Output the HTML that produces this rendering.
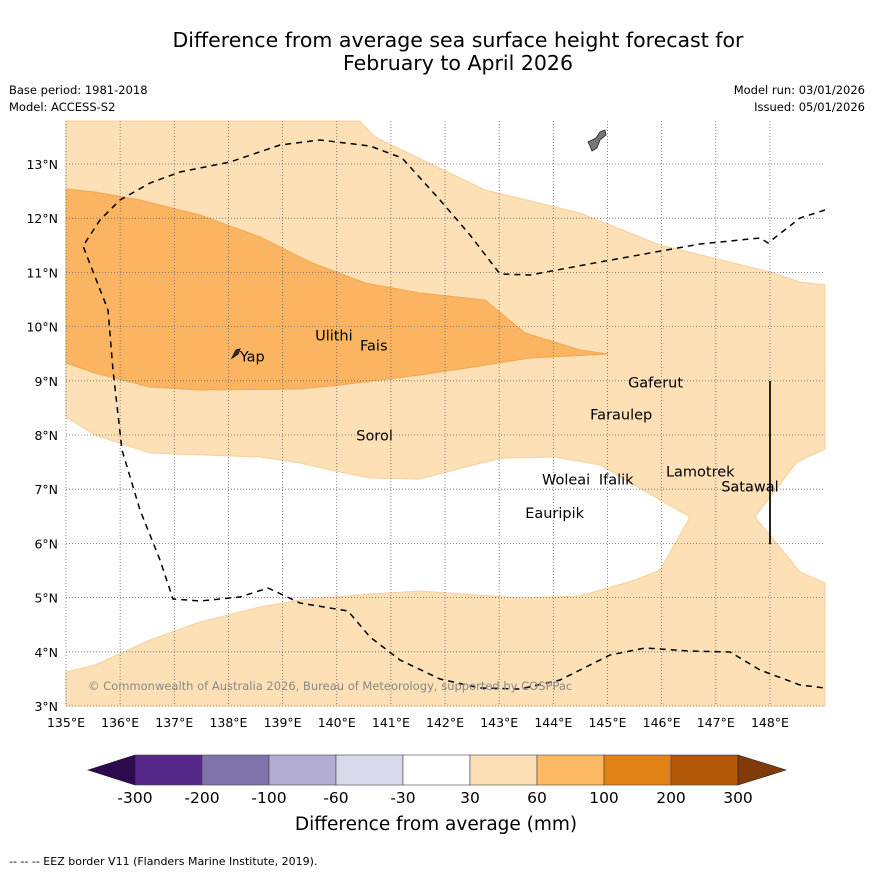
<!DOCTYPE html>
<html><head><meta charset="utf-8"><style>
body{margin:0;background:#fff;font-family:"Liberation Sans","DejaVu Sans",sans-serif}
svg text{font-family:"DejaVu Sans","Liberation Sans",sans-serif}
</style></head><body>
<svg id="s" width="873" height="873" viewBox="0 0 873 873" xmlns="http://www.w3.org/2000/svg">
<rect width="873" height="873" fill="#fff"/>
<text x="458" y="47" font-size="20.5" text-anchor="middle">Difference from average sea surface height forecast for</text>
<text x="458" y="70" font-size="20.5" text-anchor="middle">February to April 2026</text>
<text x="9" y="94" font-size="11.5">Base period: 1981-2018</text>
<text x="9" y="111" font-size="11.5">Model: ACCESS-S2</text>
<text x="865" y="94" font-size="11.5" text-anchor="end">Model run: 03/01/2026</text>
<text x="865" y="111" font-size="11.5" text-anchor="end">Issued: 05/01/2026</text>
<g id="map"></g>
<g id="cbar"></g>
<text x="436" y="830" font-size="18.5" text-anchor="middle">Difference from average (mm)</text>
<text x="9" y="865" font-size="11">--  --  -- EEZ border V11 (Flanders Marine Institute, 2019).</text>
</svg>
<script>
const NS="http://www.w3.org/2000/svg";
const lonTicks=[135,136,137,138,139,140,141,142,143,144,145,146,147,148];
const latTicks=[3,4,5,6,7,8,9,10,11,12,13];
const cbLevels=[-300,-200,-100,-60,-30,30,60,100,200,300];
const cbColors=["#542788","#8073ac","#b2abd2","#d8daeb","#ffffff","#fee0b6","#fdb863","#e08214","#b35806"];
const islands=[["Yap",138.21,9.355],["Ulithi",139.6,9.745],["Fais",140.43,9.555],["Gaferut",145.38,8.875],["Faraulep",144.68,8.285],["Sorol",140.36,7.895],["Woleai",143.79,7.085],["Ifalik",144.84,7.085],["Lamotrek",146.08,7.235],["Satawal",147.1,6.955],["Eauripik",143.48,6.465]];
const X=lon=>66+(lon-135)*54.15, Y=lat=>164+(13-lat)*54.2;
const P=pts=>pts.map(p=>X(p[0]).toFixed(1)+","+Y(p[1]).toFixed(1)).join(" ");
const px=a=>a.map(p=>[135+(p[0]-66)/54.15,13-(p[1]-164)/54.2]);
const lightPoly=px([[66,121],[360,121],[375,137],[485,190],[580,213],[660,245],[770,272],[800,282],[825,285],[825,449],[797,462],[755,517],[800,572],[825,583],[825,706],[66,706],[66,672],[95,665],[150,640],[200,622],[260,607],[300,600],[370,594],[420,591],[520,598],[580,596],[635,580],[660,570],[690,517],[660,500],[600,465],[555,457],[505,458],[485,462],[420,479],[370,478],[340,472],[300,463],[260,457],[150,453],[95,435],[66,417]]);
const orangePoly=px([[66,189],[95,192],[140,200],[200,215],[260,237],[310,262],[365,283],[420,293],[485,300],[525,333],[580,350],[608,354],[570,356],[530,358],[480,366],[420,375],[340,385],[300,389],[200,390],[150,387],[95,373],[66,363]]);
const eez=px([[825,210],[800,218],[768,243],[760,238],[700,244],[600,262],[530,275],[500,274],[470,235],[440,200],[402,158],[370,146],[320,140],[280,145],[230,162],[180,172],[150,183],[120,200],[100,220],[83,246],[108,310],[113,370],[122,450],[140,510],[160,560],[173,599],[200,601],[240,597],[268,588],[300,603],[348,611],[370,637],[400,660],[440,679],[480,688],[520,689],[560,680],[610,655],[645,648],[690,651],[730,652],[760,670],[800,685],[825,688]]);
function el(t,a,parent,name,txt){const e=document.createElementNS(NS,t);for(const k in a)e.setAttribute(k,a[k]);


if(txt!==undefined)e.textContent=txt;parent.appendChild(e);return e;}
const m=document.getElementById('map');
el('polygon',{points:P(lightPoly),fill:"#fde0b6",stroke:"#f7d09c","stroke-width":1},m,'region-30-60');
el('polygon',{points:P(orangePoly),fill:"#fbb562",stroke:"#f0a850","stroke-width":1},m,'region-60-100');
lonTicks.forEach(l=>{el('line',{x1:X(l),x2:X(l),y1:121,y2:706,stroke:"#666","stroke-width":0.8,"stroke-dasharray":"1,2"},m,'grid-lon');
el('text',{x:X(l),y:727,"font-size":12.5,"text-anchor":"middle"},m,'x-tick-label',l+"°E");});
latTicks.forEach(l=>{el('line',{x1:66,x2:825,y1:Y(l),y2:Y(l),stroke:"#666","stroke-width":0.8,"stroke-dasharray":"1,2"},m,'grid-lat');
el('text',{x:58,y:Y(l)+5,"font-size":12.5,"text-anchor":"end"},m,'y-tick-label',l+"°N");});
el('polyline',{points:P(eez),fill:"none",stroke:"#000","stroke-width":1.5,"stroke-dasharray":"6,5"},m,'eez-border');
el('line',{x1:770,x2:770,y1:381,y2:544,stroke:"#222","stroke-width":2},m,'eez-segment');
el('path',{d:"M588,142 L596,138 L600,132 L605,130 L606,135 L600,140 L597,148 L592,151 L590,146 Z",fill:"#777",stroke:"#222","stroke-width":0.8},m,'guam-island');
el('path',{d:"M232,358 L236,350 L240,349 L238,354 Z",fill:"#333",stroke:"#111"},m,'yap-island');
islands.forEach(d=>{el('text',{x:X(d[1]),y:Y(d[2]),"font-size":14.5},m,'island-label',d[0]);});
el('text',{x:88,y:690,"font-size":11.5,fill:"#888"},m,'copyright','© Commonwealth of Australia 2026, Bureau of Meteorology, supported by COSPPac');
const c=document.getElementById('cbar');
const cx0=135,cw=67,cy=755,ch=30;
cbColors.forEach((col,i)=>{el('rect',{x:cx0+i*cw,y:cy,width:cw,height:ch,fill:col,stroke:"#444","stroke-width":0.6},c,'colorbar-box');});
el('polygon',{points:`88,770 ${cx0},${cy} ${cx0},${cy+ch}`,fill:"#2d0a4e",stroke:"#222","stroke-width":0.6},c,'colorbar-min-arrow');
const xe=cx0+cbColors.length*cw;
el('polygon',{points:`${xe},${cy} 786,770 ${xe},${cy+ch}`,fill:"#7f3b08",stroke:"#222","stroke-width":0.6},c,'colorbar-max-arrow');
cbLevels.forEach((v,i)=>{el('text',{x:cx0+i*cw,y:803,"font-size":15.5,"text-anchor":"middle"},c,'colorbar-tick',String(v));});
</script>
</body></html>
